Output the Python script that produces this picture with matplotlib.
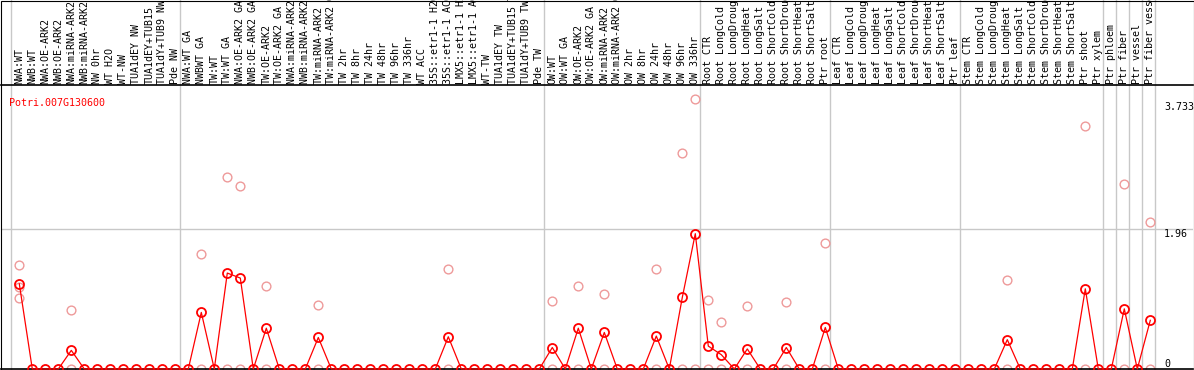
import numpy as np
import matplotlib
matplotlib.use("Agg")
import matplotlib.pyplot as plt
from matplotlib.patches import Rectangle
from matplotlib.transforms import blended_transform_factory

# sample names, in plotting order
samples = [
    # group 1
    "NWA:WT", "NWB:WT", "NWA:OE-ARK2", "NWB:OE-ARK2", "NWA:miRNA-ARK2", "NWB:miRNA-ARK2",
    "NW 0hr", "WT H2O", "WT-NW", "TUA1dEY NW", "TUA1dEY+TUB15", "TUA1dY+TUB9 NW", "Pde NW",
    # group 2
    "NWA:WT GA", "NWBWT GA", "TW:WT", "TW:WT GA", "NWA:OE-ARK2 GA", "NWB:OE-ARK2 GA",
    "TW:OE-ARK2", "TW:OE-ARK2 GA", "NWA:miRNA-ARK2 GA", "NWB:miRNA-ARK2 GA", "TW:miRNA-ARK2",
    "TW:miRNA-ARK2 GA", "TW 2hr", "TW 8hr", "TW 24hr", "TW 48hr", "TW 96hr", "TW 336hr",
    "WT ACC", "35S::etr1-1 H2O", "35S::etr1-1 ACC", "LMX5::etr1-1 H2O", "LMX5::etr1-1 ACC",
    "WT-TW", "TUA1dEY TW", "TUA1dEY+TUB15 TW", "TUA1dY+TUB9 TW", "Pde TW",
    # group 3
    "OW:WT", "OW:WT GA", "OW:OE-ARK2", "OW:OE-ARK2 GA", "OW:miRNA-ARK2", "OW:miRNA-ARK2 GA",
    "OW 2hr", "OW 8hr", "OW 24hr", "OW 48hr", "OW 96hr", "OW 336hr",
    # root
    "Root CTR", "Root LongCold", "Root LongDrought", "Root LongHeat", "Root LongSalt",
    "Root ShortCold", "Root ShortDrought", "Root ShortHeat", "Root ShortSalt", "Ptr root",
    # leaf
    "Leaf CTR", "Leaf LongCold", "Leaf LongDrought", "Leaf LongHeat", "Leaf LongSalt",
    "Leaf ShortCold", "Leaf ShortDrought", "Leaf ShortHeat", "Leaf ShortSalt", "Ptr leaf",
    # stem
    "Stem CTR", "Stem LongCold", "Stem LongDrought", "Stem LongHeat", "Stem LongSalt",
    "Stem ShortCold", "Stem ShortDrought", "Stem ShortHeat", "Stem ShortSalt", "Ptr shoot",
    "Ptr xylem",
    "Ptr phloem", "Ptr fiber", "Ptr vessel", "Ptr fiber vessel",
]

# index where each group starts (last entry = end)
group_starts = [0, 13, 41, 53, 63, 73, 84, 85, 86, 87, 88]

# mean expression per sample
mean_expr = [
    1.19, 0, 0, 0, 0.26, 0, 0, 0, 0, 0, 0, 0, 0,
    0, 0.79, 0, 1.34, 1.27, 0, 0.57, 0, 0, 0, 0.44, 0, 0, 0, 0, 0, 0, 0, 0, 0,
    0.45, 0, 0, 0, 0, 0, 0, 0,
    0.30, 0, 0.57, 0, 0.51, 0, 0, 0, 0.46, 0, 1.00, 1.89,
    0.32, 0.20, 0, 0.28, 0, 0, 0.30, 0, 0, 0.58,
    0, 0, 0, 0, 0, 0, 0, 0, 0, 0,
    0, 0, 0, 0.41, 0, 0, 0, 0, 0, 1.12, 0,
    0, 0.84, 0, 0.68,
]

# individual replicates (sample index, value)
rep_idx = [0, 0, 0, 4, 4, 14, 14, 16, 16, 17, 17, 19, 19, 23, 23, 33, 33,
           41, 41, 43, 43, 45, 45, 49, 49, 51, 51, 52, 52,
           53, 53, 54, 54, 56, 56, 59, 59, 62, 62, 76, 76, 82, 82, 85, 85, 87, 87]
rep_val = [1.45, 1.14, 0.99, 0.82, 0, 1.61, 0, 2.68, 0, 2.56, 0, 1.16, 0, 0.90, 0, 1.40, 0,
           0.95, 0, 1.16, 0, 1.05, 0, 1.39, 0, 3.02, 0, 3.77, 0,
           0.96, 0, 0.65, 0, 0.88, 0, 0.94, 0, 1.76, 0, 1.25, 0, 3.39, 0, 2.58, 0, 2.06, 0]

gene = "Potri.007G130600"
ref_levels = [0, 1.96, 3.733]

W, H = 1194, 370
fig = plt.figure(figsize=(W / 100, H / 100), dpi=100)
ax = fig.add_axes([1 / W, 1 / H, 1192 / W, 284 / H])

x = np.arange(len(samples))
ax.set_xlim((1 - 19.3) / 13, (1193 - 19.3) / 13)
ax.set_ylim(0, 284 / 71.6)

font = dict(family="DejaVu Sans Mono", size=7.2)

# group separators, running all the way up through the label area
for g in group_starts:
    ax.axvline(g - 0.64, ymin=0, ymax=1.4, color="#c8c8c8", lw=1, clip_on=False, zorder=1)
ax.axhline(1.96, color="#c8c8c8", lw=1, zorder=1)

ax.plot(rep_idx, rep_val, "o", ms=6.3, mfc="none", mec="#ee9a9a", mew=1.0, zorder=2, clip_on=False)
ax.plot(x, mean_expr, "-", color="red", lw=0.9, zorder=3, clip_on=False)
ax.plot(x, mean_expr, "o", ms=6.5, mfc="none", mec="#ff0000", mew=1.3, zorder=4, clip_on=False)

# sample labels above the plot
trans = blended_transform_factory(ax.transData, fig.transFigure)
for i, name in enumerate(samples):
    ax.text(i, (H - 84) / H, name, rotation=90, ha="center", va="bottom",
            transform=trans, clip_on=False, **font)

ax.text((9 - 19.3) / 13, 0.955, gene, color="red",
        transform=blended_transform_factory(ax.transData, ax.transAxes),
        ha="left", va="top", **font)

# value labels on the right
for lv in ref_levels:
    if lv == 0:
        ax.text(88.05, lv, "0", ha="left", va="bottom", **font)
    else:
        ax.text(88.05, lv, f"{lv:g}", ha="left", va="top", **font)

ax.set_xticks([])
ax.set_yticks([])
for side in ["left", "right"]:
    ax.spines[side].set_visible(False)
for side in ["top", "bottom"]:
    ax.spines[side].set_linewidth(1.2)

fig.patches.append(Rectangle((0.5 / W, 0.5 / H), 1 - 1 / W, 1 - 1 / H, transform=fig.transFigure,
                             fill=False, ec="black", lw=0.8))

fig.savefig("out.png", dpi=100)
